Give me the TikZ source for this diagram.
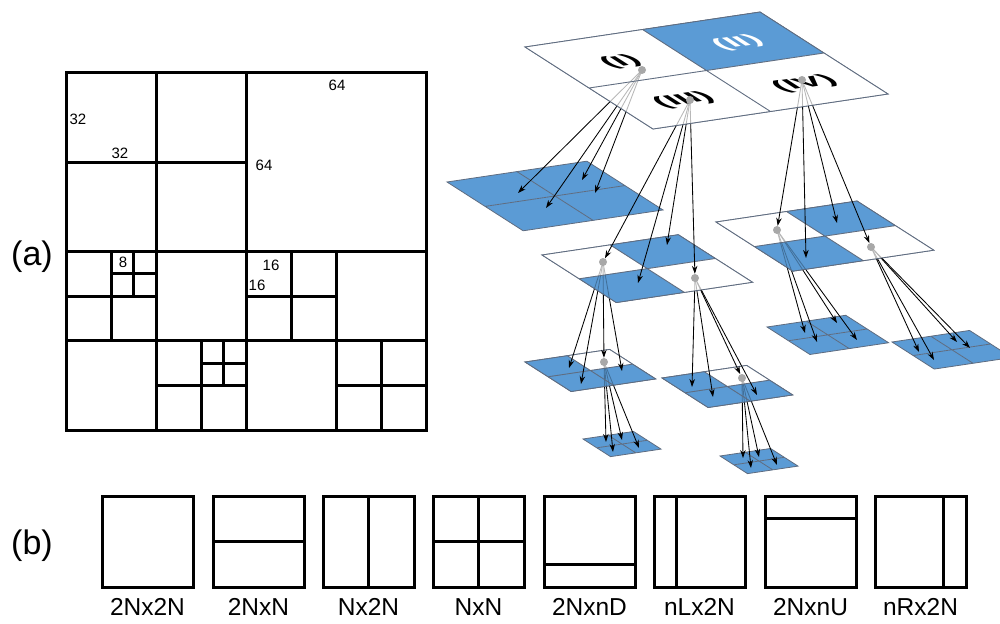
\documentclass[tikz,border=0pt]{standalone}
\usepackage{fontspec}
\setmainfont{Liberation Sans}
\usetikzlibrary{arrows.meta,calc}

\definecolor{tblue}{HTML}{5B9BD5}
\definecolor{dotgray}{RGB}{168,168,168}
\definecolor{edgegray}{RGB}{95,108,128}

% point of a perspective tile: (a,b) in the unit square of the tile
\newcommand{\tpt}[2]{({\tLx+\tS*(235*#1+128*#2)},{\tLy+\tS*(82*#2-35*#1)})}
% perspective 2x2 tile: [options]{left x}{left y}{scale}{Q1}{Q2}{Q3}{Q4}
\newcommand{\qtile}[8][]{%
  \def\tLx{#2}\def\tLy{#3}\def\tS{#4}%
  \begin{scope}[#1]
    \fill[#5] \tpt{0}{0} -- \tpt{0.5}{0} -- \tpt{0.5}{0.5} -- \tpt{0}{0.5} -- cycle;
    \fill[#6] \tpt{0.5}{0} -- \tpt{1}{0} -- \tpt{1}{0.5} -- \tpt{0.5}{0.5} -- cycle;
    \fill[#7] \tpt{0}{0.5} -- \tpt{0.5}{0.5} -- \tpt{0.5}{1} -- \tpt{0}{1} -- cycle;
    \fill[#8] \tpt{0.5}{0.5} -- \tpt{1}{0.5} -- \tpt{1}{1} -- \tpt{0.5}{1} -- cycle;
    \draw[tileedge] \tpt{0}{0} -- \tpt{1}{0} -- \tpt{1}{1} -- \tpt{0}{1} -- cycle
      \tpt{0.5}{0} -- \tpt{0.5}{1} \tpt{0}{0.5} -- \tpt{1}{0.5};
  \end{scope}}

\begin{document}
\begin{tikzpicture}[x=1pt,y=-1pt,
  gridline/.style={line width=3pt,line cap=rect},
  pbox/.style={draw,line width=3pt,minimum size=91pt,inner sep=0pt,outer sep=0pt},
  pline/.style={line width=3pt},
  plabel/.style={font=\fontsize{24.5}{28}\selectfont},
  numlabel/.style={font=\fontsize{15}{18}\selectfont,inner sep=0pt},
  partlabel/.style={font=\fontsize{34}{40}\selectfont},
  tileedge/.style={draw=edgegray,line width=0.8pt},
  arr/.style={line width=0.85pt,-{Stealth[length=8pt,width=5.5pt]}},
  dotpos/.style={circle,minimum size=8pt,inner sep=0pt},
  quadlabel/.style={font=\bfseries\fontsize{37}{40}\selectfont,transform shape,inner sep=0pt},
  overlay/.style={fill opacity=0.72}]

\useasboundingbox (0,0) rectangle (1000,623);
\clip (0,0) rectangle (1000,623);

% ---------------- (a) quadtree partition of a 128x128 block
\node[partlabel] (la) at (32,257) {(a)};
\begin{scope}[shift={(66,73)},x=2.8125pt,y=-2.79pt]
  \draw[gridline] (0,0) rectangle (128,128);
  \draw[gridline] (64,0) -- (64,128) (0,64) -- (128,64);
  % top-left 64
  \draw[gridline] (32,0) -- (32,64) (0,32) -- (64,32);
  % bottom-left 64
  \draw[gridline] (32,64) -- (32,128) (0,96) -- (64,96);
  \draw[gridline] (16,64) -- (16,96) (0,80) -- (32,80);
  \draw[gridline] (24,64) -- (24,80) (16,72) -- (32,72);
  \draw[gridline] (48,96) -- (48,128) (32,112) -- (64,112);
  \draw[gridline] (56,96) -- (56,112) (48,104) -- (64,104);
  % bottom-right 64
  \draw[gridline] (96,64) -- (96,128) (64,96) -- (128,96);
  \draw[gridline] (80,64) -- (80,96) (64,80) -- (96,80);
  \draw[gridline] (112,96) -- (112,128) (96,112) -- (128,112);
\end{scope}
\node[numlabel] (n32a) at (78,119) {32};
\node[numlabel] (n32b) at (120,153) {32};
\node[numlabel] (n64a) at (337,85) {64};
\node[numlabel] (n64b) at (264,165) {64};
\node[numlabel] (n8) at (123,262) {8};
\node[numlabel] (n16a) at (271,265) {16};
\node[numlabel] (n16b) at (257,285) {16};

% ---------------- (b) prediction unit partitions
\node[partlabel] (lb) at (32,546) {(b)};
\foreach \i/\x/\t in {1/147.5/2Nx2N,2/258.5/2NxN,3/368.5/Nx2N,4/478.5/NxN,
                      5/589.5/2NxnD,6/699.5/nLx2N,7/810.5/2NxnU,8/920.5/nRx2N}{
  \node[pbox] (p\i) at (\x,541.5) {};
  \node[plabel] (p\i t) at (\x,607) {\t};
}
\draw[pline] (p2.west) -- (p2.east);
\draw[pline] (p3.north) -- (p3.south);
\draw[pline] (p4.west) -- (p4.east) (p4.north) -- (p4.south);
\draw[pline] ($(p5.north west)!0.75!(p5.south west)$) -- ($(p5.north east)!0.75!(p5.south east)$);
\draw[pline] ($(p6.north west)!0.25!(p6.north east)$) -- ($(p6.south west)!0.25!(p6.south east)$);
\draw[pline] ($(p7.north west)!0.25!(p7.south west)$) -- ($(p7.north east)!0.25!(p7.south east)$);
\draw[pline] ($(p8.north west)!0.75!(p8.north east)$) -- ($(p8.south west)!0.75!(p8.south east)$);

% ---------------- quadtree in perspective
% split points
\node[dotpos] (dI) at (642,70) {};
\node[dotpos] (dIII) at (690,100) {};
\node[dotpos] (dIV) at (802,80) {};
\node[dotpos] (dB1) at (603,262) {};
\node[dotpos] (dB4) at (695,278) {};
\node[dotpos] (dC1) at (777,230) {};
\node[dotpos] (dC4) at (871,247) {};
\node[dotpos] (dD2) at (604,362) {};
\node[dotpos] (dE2) at (742,378) {};
% arrow targets
\coordinate (a1) at (518,193); \coordinate (a2) at (582,180);
\coordinate (a3) at (546,208); \coordinate (a4) at (595,193);
\coordinate (b2) at (667,245); \coordinate (b3) at (638,283);
\coordinate (c2) at (837,223); \coordinate (c3) at (806,258);
\coordinate (d1) at (569,368); \coordinate (d3) at (581,384); \coordinate (d4) at (622,371);
\coordinate (e1) at (692,387); \coordinate (e3) at (713,397); \coordinate (e4) at (757,395);
\coordinate (f1) at (805,333); \coordinate (f2) at (837,323);
\coordinate (f3) at (817,342); \coordinate (f4) at (857,340);
\coordinate (g1) at (919,352); \coordinate (g2) at (957,342);
\coordinate (g3) at (934,360); \coordinate (g4) at (970,348);
\coordinate (h1) at (606,442); \coordinate (h2) at (622,440);
\coordinate (h3) at (613,452); \coordinate (h4) at (639,448);
\coordinate (j1) at (743,458); \coordinate (j2) at (759,457);
\coordinate (j3) at (751,468); \coordinate (j4) at (777,465);

% tiles
\qtile{525}{47}{1}{white}{tblue}{white}{white}
\qtile{447}{182}{0.595}{tblue}{tblue}{tblue}{tblue}
\qtile{542}{255}{0.58}{white}{tblue}{tblue}{white}
\qtile{716}{222}{0.6}{white}{tblue}{tblue}{white}
\qtile{525}{362}{0.36}{tblue}{white}{tblue}{tblue}
\qtile{662}{378}{0.36}{tblue}{white}{tblue}{tblue}
\qtile{767}{327}{0.335}{tblue}{tblue}{tblue}{tblue}
\qtile{892}{342}{0.33}{tblue}{tblue}{tblue}{tblue}
\qtile{583}{439}{0.215}{tblue}{tblue}{tblue}{tblue}
\qtile{720}{456}{0.215}{tblue}{tblue}{tblue}{tblue}

% fourth level
\foreach \t in {h1,h2,h3,h4} \draw[arr] (dD2.center) -- (\t);
\foreach \t in {j1,j2,j3,j4} \draw[arr] (dE2.center) -- (\t);
\qtile[overlay]{525}{362}{0.36}{tblue}{white}{tblue}{tblue}
\qtile[overlay]{662}{378}{0.36}{tblue}{white}{tblue}{tblue}

% third level
\foreach \t in {d1,d3,d4,dD2} \draw[arr] (dB1.center) -- (\t);
\foreach \t in {e1,e3,e4,dE2} \draw[arr] (dB4.center) -- (\t);
\foreach \t in {f1,f2,f3,f4} \draw[arr] (dC1.center) -- (\t);
\foreach \t in {g1,g2,g3,g4} \draw[arr] (dC4.center) -- (\t);
\qtile[overlay]{542}{255}{0.58}{white}{tblue}{tblue}{white}
\qtile[overlay]{716}{222}{0.6}{white}{tblue}{tblue}{white}

% second level
\foreach \t in {a1,a2,a3,a4} \draw[arr] (dI.center) -- (\t);
\foreach \t in {dB1,b2,b3,dB4} \draw[arr] (dIII.center) -- (\t);
\foreach \t in {dC1,c2,c3,dC4} \draw[arr] (dIV.center) -- (\t);
\qtile[overlay]{525}{47}{1}{white}{tblue}{white}{white}

% quadrant labels lying on the top plane
\begin{scope}[shift={(621,62)},cm={0.989,0.147,-0.539,0.345,(0,0)}]
  \node[quadlabel] (qI) at (0,0) {(I)};
\end{scope}
\begin{scope}[shift={(738,43)},cm={0.989,0.147,-0.539,0.345,(0,0)}]
  \node[quadlabel,text=white] (qII) at (0,0) {(II)};
\end{scope}
\begin{scope}[shift={(684,100)},cm={0.989,0.147,-0.539,0.345,(0,0)}]
  \node[quadlabel] (qIII) at (0,0) {(III)};
\end{scope}
\begin{scope}[shift={(805,84)},cm={0.989,0.147,-0.539,0.345,(0,0)}]
  \node[quadlabel] (qIV) at (0,0) {(IV)};
\end{scope}

% split points on top
\foreach \d in {dI,dIII,dIV,dB1,dB4,dC1,dC4,dD2,dE2}
  \fill[dotgray] (\d.center) circle[radius=4];
\end{tikzpicture}
\end{document}
